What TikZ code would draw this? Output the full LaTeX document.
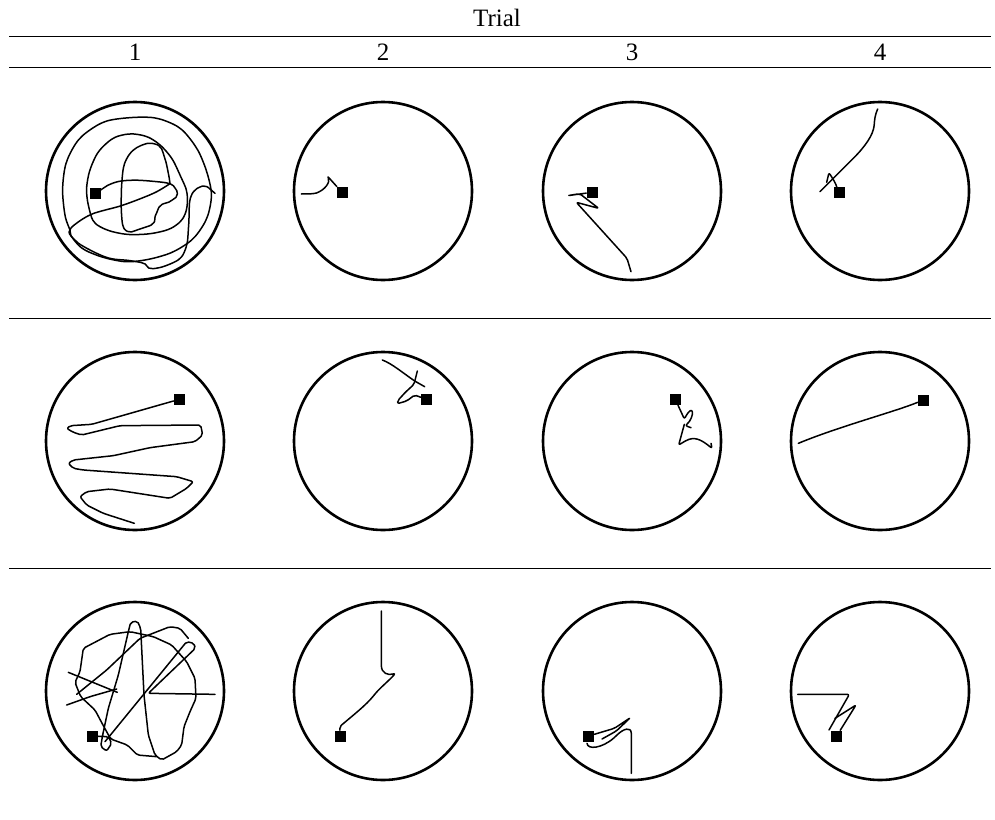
\documentclass[tikz,border=0pt]{standalone}
\usepackage{fontspec}
\setmainfont{Liberation Serif}
\begin{document}
\begin{tikzpicture}[x=1pt, y=-1pt,
    rule/.style={line width=1pt},
    arena/.style={line width=2.6pt},
    track/.style={line width=1.5pt, line join=round, line cap=round, rounded corners=2pt},
    goal/.style={fill=black, inner sep=0pt, minimum size=11pt},
    head/.style={font=\fontsize{25}{28}\selectfont, inner sep=0pt},
    cell/.style={shift={#1}, scale=1/3}]

  \useasboundingbox (0,0) rectangle (995,819);

  \node[head] (trial) at (497,18) {Trial};
  \foreach \n/\x in {1/135,2/383,3/632,4/880}
    \node[head] (t\n) at (\x,52) {\n};

  \foreach \y in {36,67,318,568}
    \draw[rule] (9,\y) -- (991,\y);

  \foreach \cx in {135,383,632,880}
    \foreach \cy in {191,441,691}
      \draw[arena] (\cx,\cy) circle (89pt);

  % row 1
  \begin{scope}[cell={(40,95)}]
    \node[goal] (g1) at (165,294) {};
    \draw[track] plot[smooth] coordinates {(182,285) (210,268) (245,258) (300,256) (385,265) (407,282) (410,302) (392,318) (362,332) (348,358) (338,386) (300,402) (268,410) (250,395) (244,345) (245,270) (252,212) (270,176) (296,155) (330,145) (360,156) (376,195) (386,240) (390,266)};
    \draw[track] plot[smooth] coordinates {(390,266) (340,295) (250,330) (150,360) (90,405) (110,440) (160,470) (210,490) (270,497) (310,505) (332,520) (372,514) (420,490) (440,450) (446,390) (450,315) (466,285) (495,274) (525,295)};
    \draw[track] plot[smooth] coordinates {(90,405) (75,360) (68,280) (80,200) (120,130) (190,82) (270,68) (350,70) (420,100) (470,160) (500,230) (514,300) (500,370) (460,430) (400,470) (330,492) (260,500) (190,487) (130,462) (97,428) (90,405)};
    \draw[track] plot[smooth cycle] coordinates {(145,330) (140,280) (150,225) (176,170) (220,130) (270,117) (320,125) (360,150) (395,190) (420,240) (440,290) (440,340) (424,376) (388,402) (330,416) (262,418) (202,405) (162,380)};
  \end{scope}
  \begin{scope}[cell={(288,95)}]
    \node[goal] (g2) at (162,292) {};
    \draw[track] (g2) -- (118,243) .. controls (128,262) and (110,285) .. (80,296) -- (40,297);
  \end{scope}
  \begin{scope}[cell={(537,95)}]
    \node[goal] (g3) at (165,292) {};
    \draw[track] (g3) -- (92,302) -- (128,296) -- (185,340) -- (118,322) -- (270,490) -- (282,530);
  \end{scope}
  \begin{scope}[cell={(785,95)}]
    \node[goal] (g4) at (162,293) {};
    \draw[track] (105,290) -- (200,195) .. controls (240,155) and (265,120) .. (268,85) .. controls (270,60) and (275,50) .. (278,42);
    \draw[track] (g4) -- (150,262) -- (132,233) -- (125,262);
  \end{scope}

  % row 2
  \begin{scope}[cell={(40,345)}]
    \node[goal] (g5) at (418,163) {};
    \draw[track] (g5) -- (155,238) -- (92,242) -- (80,250) -- (100,262) -- (125,270) -- (240,242) -- (482,240) -- (488,270) -- (465,290) -- (330,308) -- (220,332) -- (100,345) -- (85,355) -- (100,370) -- (130,375) -- (410,395) -- (460,410) -- (440,430) -- (390,460) -- (210,432) -- (140,440) -- (120,455) -- (140,480) -- (190,505) -- (283,535);
  \end{scope}
  \begin{scope}[cell={(288,345)}]
    \node[goal] (g6) at (415,163) {};
    \draw[track] (283,45) .. controls (310,55) and (340,80) .. (380,108) -- (410,125);
    \draw[track] (388,78) -- (378,118) -- (352,142) -- (330,166) -- (328,176) -- (356,168) -- (380,150) -- (g6);
  \end{scope}
  \begin{scope}[cell={(537,345)}]
    \node[goal] (g7) at (415,163) {};
    \draw[track] (g7) -- (442,222) .. controls (470,170) and (475,215) .. (445,242) -- (462,248);
    \draw[track] (442,238) -- (425,300) -- (450,285) .. controls (480,275) and (500,290) .. (525,310) -- (522,295);
  \end{scope}
  \begin{scope}[cell={(785,345)}]
    \node[goal] (g8) at (415,165) {};
    \draw[track] (40,295) .. controls (160,245) and (330,200) .. (g8);
  \end{scope}

  % row 3
  \begin{scope}[cell={(40,595)}]
    \node[goal] (g9) at (157,423) {};
    \draw[track] (g9) -- (205,425) -- (215,445) -- (200,468) -- (182,455) -- (188,420) -- (205,340) -- (235,240) -- (265,110) -- (272,82) -- (292,78) -- (302,100) -- (312,300) -- (325,420) -- (345,480) -- (365,495) -- (410,470) -- (425,450) -- (432,395) -- (450,350) -- (468,310) -- (465,250) -- (440,200) -- (395,150) -- (340,125) -- (270,110) -- (210,118) -- (130,160) -- (120,230) -- (105,262) -- (122,305) -- (165,345) -- (190,392) -- (212,432) -- (262,450) -- (292,480) -- (350,485);
    \draw[track] (195,440) -- (440,140) -- (462,145) -- (466,160) -- (325,295) -- (525,298);
    \draw[track] (85,232) -- (232,292);
    \draw[track] (80,330) -- (150,305) -- (230,282);
    \draw[track] (110,298) -- (200,225) -- (300,130) -- (390,95) -- (420,100) -- (445,130);
  \end{scope}
  \begin{scope}[cell={(288,595)}]
    \node[goal] (g10) at (157,423) {};
    \draw[track] (g10) -- (155,395) .. controls (190,365) and (235,330) .. (260,298) .. controls (280,275) and (305,255) .. (322,235) .. controls (300,242) and (280,235) .. (280,205) -- (280,48);
  \end{scope}
  \begin{scope}[cell={(537,595)}]
    \node[goal] (g11) at (155,423) {};
    \draw[track] (g11) -- (232,400) -- (280,368) -- (238,408) -- (195,432);
    \draw[track] (150,445) .. controls (152,465) and (195,460) .. (235,425) .. controls (260,400) and (282,395) .. (283,420) -- (283,535);
  \end{scope}
  \begin{scope}[cell={(785,595)}]
    \node[goal] (g12) at (155,423) {};
    \draw[track] (38,298) -- (193,298) -- (132,405);
    \draw[track] (150,370) -- (213,330) -- (g12);
  \end{scope}
\end{tikzpicture}
\end{document}
